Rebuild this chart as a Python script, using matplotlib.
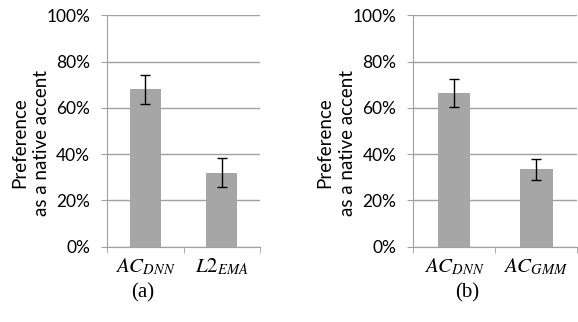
import matplotlib
matplotlib.use('Agg')
from matplotlib import pyplot as plt
from matplotlib.ticker import FixedLocator

plt.rcParams['font.family'] = ['Lato', 'DejaVu Sans']
plt.rcParams['mathtext.fontset'] = 'stix'

# panel (a)
labels_a = [r'$AC_{DNN}$', r'$L2_{EMA}$']
values_a = [68, 32]
errors_a = [6.2, 6.2]

# panel (b)
labels_b = [r'$AC_{DNN}$', r'$AC_{GMM}$']
values_b = [66.5, 33.5]
errors_b = [6.1, 4.5]

yticks = [0, 20, 40, 60, 80, 100]
ytick_labels = ['0%', '20%', '40%', '60%', '80%', '100%']

bar_color = '#a6a6a6'
grid_color = '#a0a0a0'

fig = plt.figure(figsize=(5.78, 3.22), dpi=100)
ax_a = fig.add_axes([0.185, 0.234, 0.265, 0.718])
ax_b = fig.add_axes([0.7145, 0.234, 0.284, 0.718])


def draw_panel(ax, labels, values, errors, label_x):
    x = list(range(len(values)))
    ax.bar(x, values, width=0.4, color=bar_color, zorder=2)
    ax.errorbar(x, values, yerr=errors, fmt='none', ecolor='black',
                elinewidth=1, capsize=3.3, capthick=1, zorder=3)
    ax.set_xlim(-0.5, len(values) - 0.5)
    ax.set_ylim(0, 100)
    ax.set_yticks(yticks)
    ax.set_yticklabels(ytick_labels, fontsize=12.5)
    ax.set_xticks(x)
    ax.set_xticklabels(labels, fontsize=15)
    ax.tick_params(axis='x', length=0, pad=7)
    ax.xaxis.set_minor_locator(FixedLocator([-0.5, 0.5, 1.5]))
    ax.tick_params(axis='x', which='minor', length=4, color=grid_color)
    ax.tick_params(axis='y', length=4, color=grid_color, pad=8)
    ax.grid(axis='y', color=grid_color, linewidth=1, zorder=0)
    for side in ['top', 'right']:
        ax.spines[side].set_visible(False)
    ax.spines['left'].set_color(grid_color)
    ax.spines['bottom'].set_color(grid_color)
    ax.set_ylabel('Preference\nas a native accent', fontsize=13.5,
                  linespacing=1.35)
    ax.yaxis.set_label_coords(label_x, 0.45)


draw_panel(ax_a, labels_a, values_a, errors_a, -0.37)
draw_panel(ax_b, labels_b, values_b, errors_b, -0.35)

fig.text(0.247, 0.09, '(a)', ha='center', va='center', fontsize=15,
         family='Liberation Serif')
fig.text(0.808, 0.09, '(b)', ha='center', va='center', fontsize=15,
         family='Liberation Serif')

fig.savefig('out.png', dpi=100)
